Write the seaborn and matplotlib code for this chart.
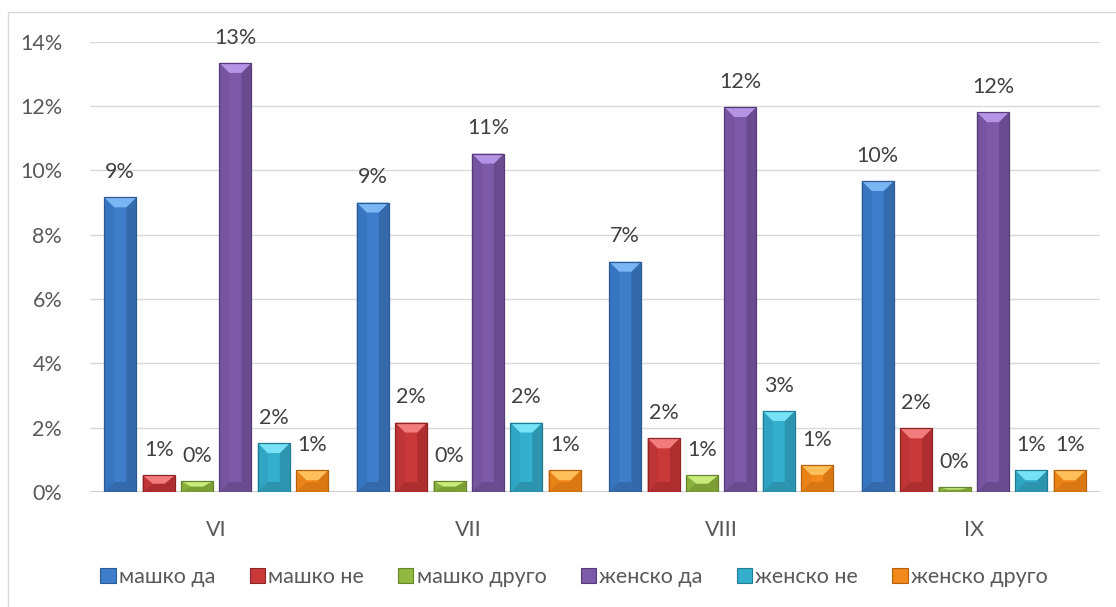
import numpy as np
import pandas as pd
import matplotlib
matplotlib.use("Agg")
import matplotlib.pyplot as plt
from matplotlib.patches import Polygon, Patch, Rectangle
from matplotlib.ticker import PercentFormatter
from matplotlib import font_manager
import seaborn as sns

# ---- data -------------------------------------------------------------
months = ["VI", "VII", "VIII", "IX"]
series = ["машко да", "машко не", "машко друго", "женско да", "женско не", "женско друго"]

male_yes = [0.0916, 0.0900, 0.0716, 0.0967]
male_no = [0.0052, 0.0216, 0.0167, 0.0198]
male_other = [0.0034, 0.0034, 0.0052, 0.0015]
female_yes = [0.1334, 0.1052, 0.1197, 0.1181]
female_no = [0.0152, 0.0216, 0.0252, 0.0068]
female_other = [0.0068, 0.0068, 0.0084, 0.0068]

values = [male_yes, male_no, male_other, female_yes, female_no, female_other]

# face, top bevel, side bevel, bottom bevel, outline
face_colors = ["#3D7DCA", "#C9393A", "#92B83F", "#7D5AA8", "#33AECD", "#F3891C"]
top_colors = ["#7AB6F4", "#F27C7C", "#C8EB7C", "#B594E6", "#77E2F6", "#FFC05C"]
side_colors = ["#3875C0", "#BF3436", "#8AAF3B", "#76549F", "#30A5C3", "#E98318"]
bottom_colors = ["#3469AC", "#AE2E30", "#7D9E35", "#6A4B8F", "#2C94AF", "#D97812"]
edge_colors = ["#2C5A94", "#8E2325", "#67852B", "#553C78", "#217B93", "#B6600C"]

# ---- fonts ------------------------------------------------------------
def family_covers(family, text):
    try:
        from fontTools.ttLib import TTFont
        path = font_manager.findfont(family, fallback_to_default=False)
        cmap = TTFont(path, fontNumber=0).getBestCmap()
        return all(ord(c) in cmap for c in text if not c.isspace())
    except Exception:
        return False

sample = "".join(series) + "0123456789%VIX"
font_family = "Lato" if family_covers("Lato", sample) else "Open Sans"

sns.set_theme(style="white")
plt.rcParams["font.family"] = [font_family, "DejaVu Sans"]
FS = 15.5

# ---- figure -----------------------------------------------------------
W, H, DPI = 1116, 607, 100
fig = plt.figure(figsize=(W / DPI, H / DPI), dpi=DPI, facecolor="white")
ax_left, ax_right, ax_top, ax_bottom = 90, 1100, 41.7, 492
ax = fig.add_axes([ax_left / W, (H - ax_bottom) / H,
                   (ax_right - ax_left) / W, (ax_bottom - ax_top) / H])

df = pd.DataFrame(
    [(m, s, v[i]) for s, v in zip(series, values) for i, m in enumerate(months)],
    columns=["месец", "група", "удел"],
)

sns.barplot(data=df, x="месец", y="удел", hue="група", order=months,
            hue_order=series, palette=face_colors, saturation=1,
            width=0.912, gap=0.165, errorbar=None, legend=False, ax=ax)

ax.set_ylim(0, 0.14)
ax.set_yticks(np.arange(0, 0.1401, 0.02))
ax.yaxis.set_major_formatter(PercentFormatter(1.0, decimals=0))
ax.set_xlabel("")
ax.set_ylabel("")
for sp in ax.spines.values():
    sp.set_visible(False)
ax.grid(axis="y", color="#D9D9D9", linewidth=1.0)
ax.set_axisbelow(True)
ax.axhline(0, color="#D0D0D0", linewidth=2.2, zorder=1.5)
ax.tick_params(axis="y", length=0, pad=20, labelsize=FS, labelcolor="#595959")
ax.tick_params(axis="x", length=0, pad=20, labelsize=FS, labelcolor="#595959")

# ---- bevelled bar faces -------------------------------------------------
fig.canvas.draw()
px_per_x = ax.transData.transform((1, 0))[0] - ax.transData.transform((0, 0))[0]
px_per_y = abs(ax.transData.transform((0, 0.01))[1] - ax.transData.transform((0, 0))[1]) / 0.01
bevel_px = 10.0
bx = bevel_px / px_per_x
by_full = bevel_px / px_per_y

for si, container in enumerate(ax.containers):
    for bar in container.patches:
        bar.set_zorder(2)
        bar.set_edgecolor("none")
        x, w, h = bar.get_x(), bar.get_width(), bar.get_height()
        by = min(by_full, h / 2)
        shapes = [
            ([(x, 0), (x + bx, by), (x + bx, h - by), (x, h)], side_colors[si]),
            ([(x + w, 0), (x + w - bx, by), (x + w - bx, h - by), (x + w, h)], bottom_colors[si]),
            ([(x, 0), (x + w, 0), (x + w - bx, by), (x + bx, by)], bottom_colors[si]),
            ([(x, h), (x + w, h), (x + w - bx, h - by), (x + bx, h - by)], top_colors[si]),
        ]
        for pts, col in shapes:
            ax.add_patch(Polygon(pts, closed=True, facecolor=col, edgecolor="none",
                                 zorder=2.5))
        ax.add_patch(Rectangle((x, 0), w, h, facecolor="none",
                               edgecolor=edge_colors[si], linewidth=0.9, zorder=2.6))

    ax.bar_label(container, labels=[f"{v * 100:.0f}%" for v in values[si]],
                 padding=11, fontsize=FS, color="#404040", zorder=4)

# ---- legend -------------------------------------------------------------
handles = [Patch(facecolor=face_colors[i], edgecolor=edge_colors[i], linewidth=0.8,
                 label=series[i]) for i in range(len(series))]
fig.legend(handles=handles, loc="center", bbox_to_anchor=(574 / W, 1 - 577 / H),
           ncol=6, frameon=False, fontsize=FS, labelcolor="#595959",
           handlelength=0.7, handleheight=0.7, handletextpad=0.15,
           columnspacing=1.6)

# ---- chart frame ----------------------------------------------------------
fig.add_artist(Rectangle((8 / W, -0.05), 1.1, 1 - 12 / H + 0.05,
                         transform=fig.transFigure, fill=False,
                         edgecolor="#D9D9D9", linewidth=1.0, clip_on=False))

fig.savefig("out.png", dpi=DPI, facecolor="white")
